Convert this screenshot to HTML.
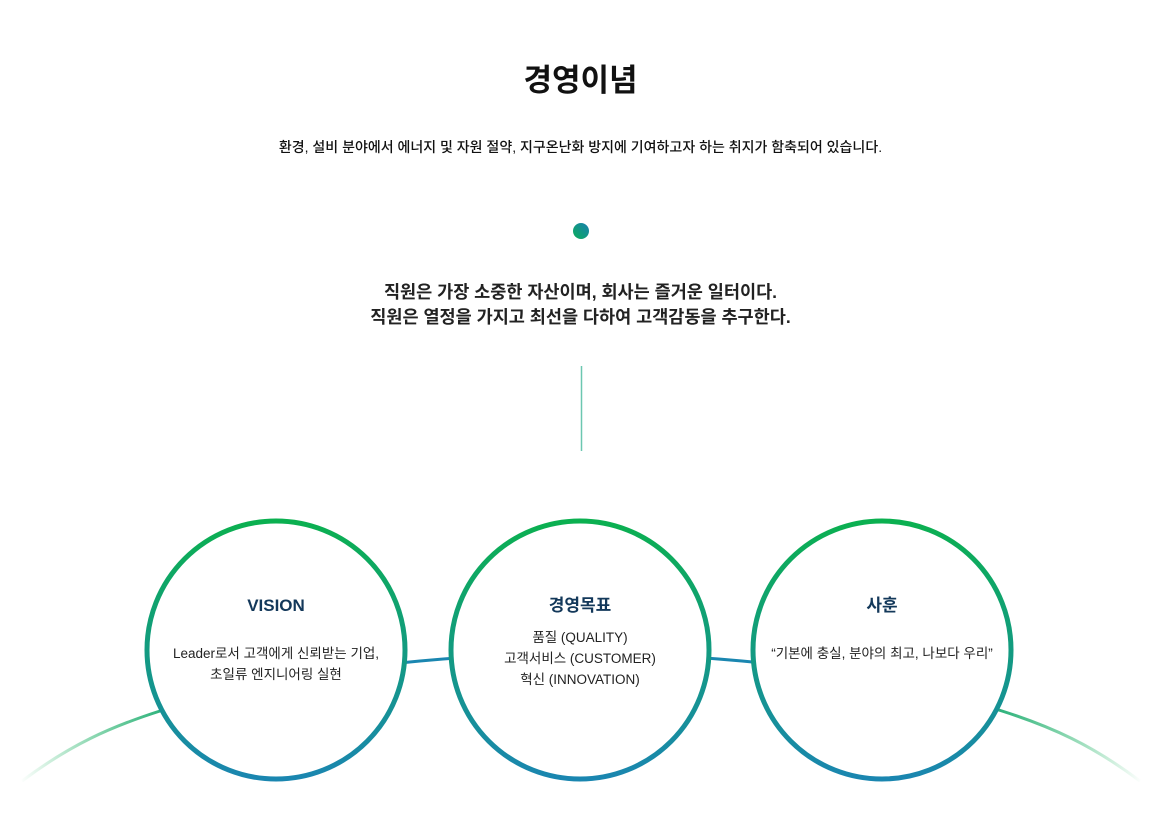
<!DOCTYPE html>
<html><head><meta charset="utf-8"><style>
html,body{margin:0;background:#fff;width:1157px;height:820px;overflow:hidden;position:relative;font-family:"Liberation Sans","Noto Sans CJK KR",sans-serif;}
.t{position:absolute;left:0;width:1157px;text-align:center;color:#111;}
.ti{position:absolute;width:260px;text-align:center;font-size:17px;font-weight:bold;color:#13385a;top:595px;line-height:22px}
.bd{position:absolute;width:260px;text-align:center;font-size:13.5px;color:#222;line-height:21px}
</style></head><body>
<div class="t" style="top:55px;font-size:31px;font-weight:bold;left:2px">경영이념</div>
<div class="t" style="top:137px;font-size:14px;font-weight:500;left:2px">환경, 설비 분야에서 에너지 및 자원 절약, 지구온난화 방지에 기여하고자 하는 취지가 함축되어 있습니다.</div>
<div class="t" style="top:280px;font-size:17.5px;font-weight:bold;line-height:25px;left:2px;color:#222">직원은 가장 소중한 자산이며, 회사는 즐거운 일터이다.<br>직원은 열정을 가지고 최선을 다하여 고객감동을 추구한다.</div>
<svg width="1157" height="820" style="position:absolute;left:0;top:0">
<defs>
<linearGradient id="dot" x1="1" y1="0" x2="0" y2="1"><stop offset="0" stop-color="#1a7fb0"/><stop offset="1" stop-color="#0aae5a"/></linearGradient>
<linearGradient id="ring" x1="0" y1="0" x2="0" y2="1"><stop offset="0" stop-color="#0bb050"/><stop offset="1" stop-color="#1a86b0"/></linearGradient>
<linearGradient id="arc" gradientUnits="userSpaceOnUse" x1="20" y1="0" x2="1142" y2="0"><stop offset="0" stop-color="#0bb050" stop-opacity="0"/><stop offset="0.13" stop-color="#2ab07a"/><stop offset="0.3" stop-color="#1a86b0"/><stop offset="0.7" stop-color="#1a86b0"/><stop offset="0.87" stop-color="#2ab07a"/><stop offset="1" stop-color="#0bb050" stop-opacity="0"/></linearGradient>
</defs>
<circle cx="581" cy="231" r="8" fill="url(#dot)"/>
<line x1="581.5" y1="366" x2="581.5" y2="451" stroke="#6cc7b0" stroke-width="1.5"/>
<path d="M22,781 C70,745 110,727 160,711 C210,695 300,672 420,661 Q581,646 742,661 C862,672 952,695 1002,711 C1052,727 1092,745 1140,781" fill="none" stroke="url(#arc)" stroke-width="3"/>
<circle cx="276" cy="650" r="129" fill="#fff" stroke="url(#ring)" stroke-width="5"/>
<circle cx="580" cy="650" r="129" fill="#fff" stroke="url(#ring)" stroke-width="5"/>
<circle cx="882" cy="650" r="129" fill="#fff" stroke="url(#ring)" stroke-width="5"/>
</svg>
<div class="ti" style="left:146px">VISION</div>
<div class="bd" style="left:146px;top:643px">Leader로서 고객에게 신뢰받는 기업,<br>초일류 엔지니어링 실현</div>
<div class="ti" style="left:450px">경영목표</div>
<div class="bd" style="left:450px;top:627px">품질 (QUALITY)<br>고객서비스 (CUSTOMER)<br>혁신 (INNOVATION)</div>
<div class="ti" style="left:752px">사훈</div>
<div class="bd" style="left:752px;top:643px">“기본에 충실, 분야의 최고, 나보다 우리”</div>
</body></html>
